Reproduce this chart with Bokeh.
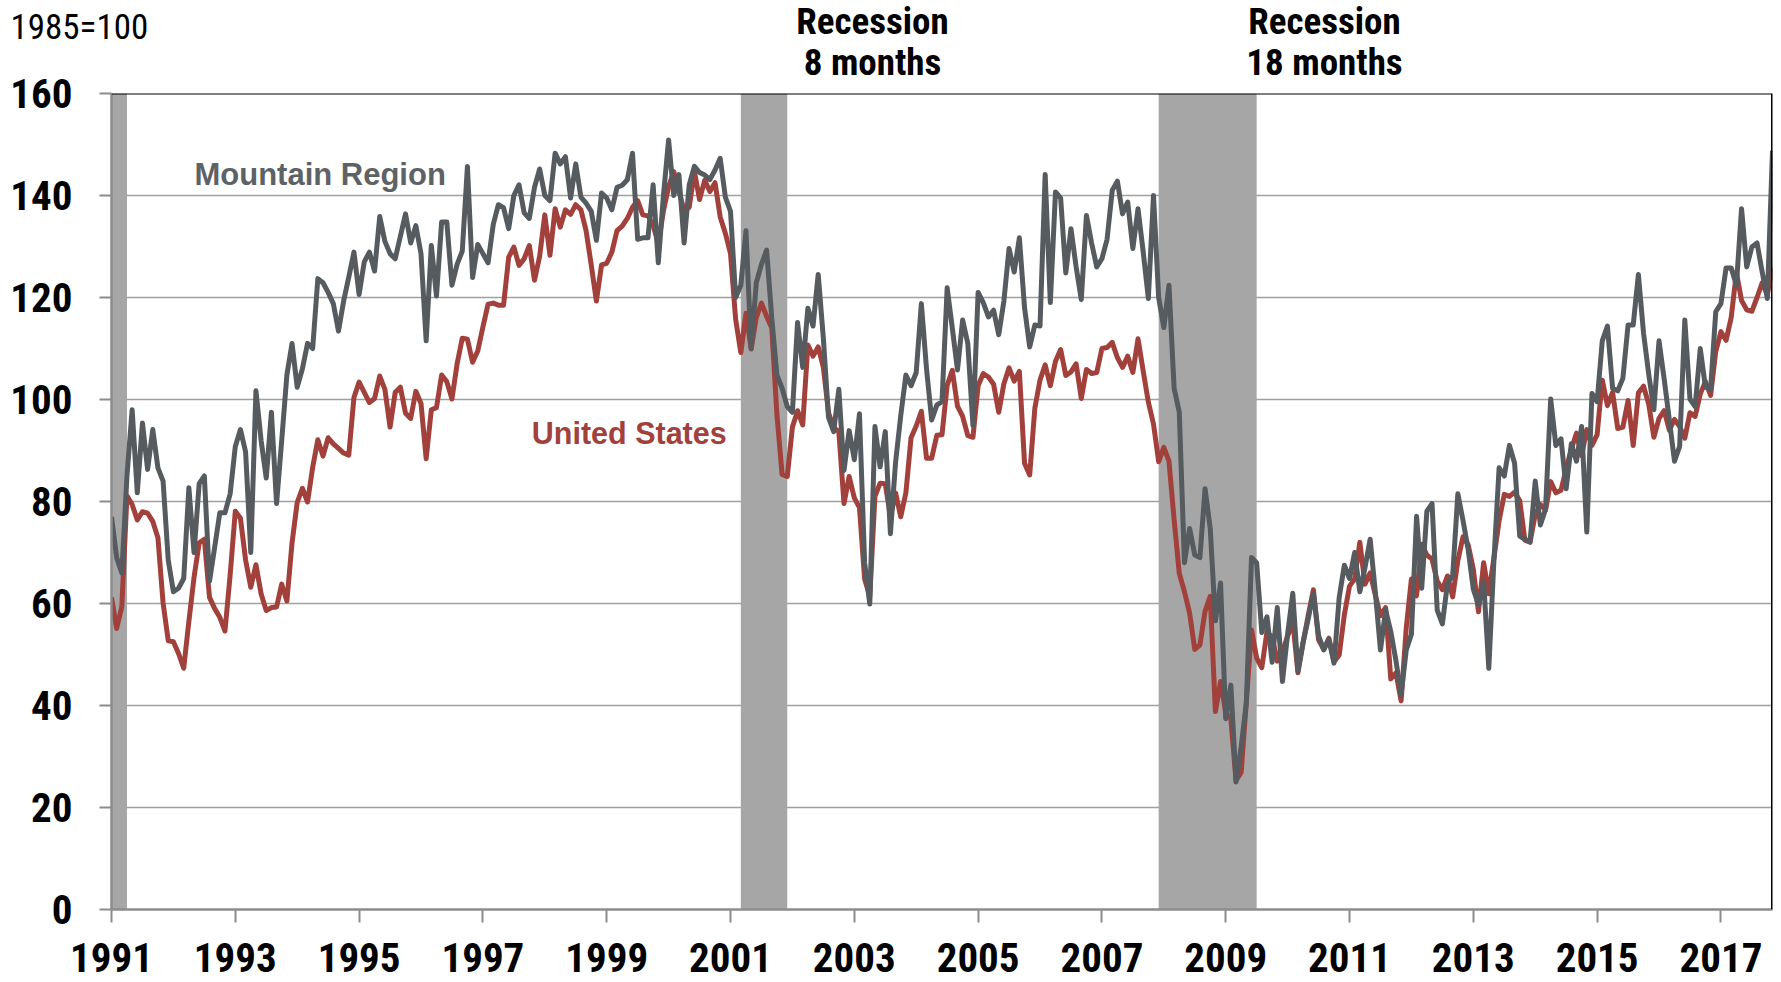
from bokeh.plotting import figure
from bokeh.models import Range1d, FixedTicker, Label, Span
from bokeh.layouts import column
from bokeh.embed import file_html
from bokeh.resources import INLINE

# Monthly index values, 1985=100. First value is Dec 1990, then Jan..Dec per year, ending Oct 2017.
us_dec_1990 = [61.2]
us_index = us_dec_1990 + [
    55.1, 59.4, 81.1, 79.4, 76.4, 78.0, 77.7, 76.1, 72.9, 60.1, 52.7, 52.5,   # 1991
    50.2, 47.3, 56.5, 65.1, 71.9, 72.6, 61.2, 59.0, 57.3, 54.6, 65.6, 78.1,   # 1992
    76.7, 68.5, 63.2, 67.6, 61.9, 58.6, 59.2, 59.3, 63.8, 60.5, 71.9, 79.8,   # 1993
    82.6, 79.9, 86.7, 92.1, 88.9, 92.5, 91.3, 90.4, 89.5, 89.1, 100.4, 103.4,  # 1994
    101.4, 99.4, 100.2, 104.6, 102.0, 94.6, 101.4, 102.4, 97.3, 96.3, 101.6, 99.2,  # 1995
    88.4, 98.0, 98.4, 104.8, 103.5, 100.1, 107.0, 112.0, 111.8, 107.3, 109.5, 114.2,  # 1996
    118.7, 118.9, 118.5, 118.5, 127.9, 129.9, 126.3, 127.6, 130.2, 123.4, 128.1, 136.2,  # 1997
    128.3, 137.4, 133.8, 137.2, 136.3, 138.2, 137.2, 133.1, 126.4, 119.3, 126.4, 126.7,  # 1998
    128.9, 133.1, 134.0, 135.5, 137.7, 139.0, 136.2, 136.0, 134.2, 130.5, 137.0, 141.7,  # 1999
    144.7, 140.8, 137.1, 137.7, 144.7, 139.2, 143.0, 140.8, 142.5, 135.8, 132.6, 128.6,  # 2000
    115.7, 109.2, 116.9, 109.9, 116.1, 118.9, 116.3, 114.0, 97.0, 85.3, 84.9, 94.6,   # 2001
    97.8, 95.0, 110.7, 108.5, 110.3, 106.3, 97.4, 94.5, 93.7, 79.6, 84.9, 80.7,   # 2002
    78.8, 64.8, 61.4, 81.0, 83.6, 83.5, 77.0, 81.7, 77.0, 81.7, 92.5, 94.8,   # 2003
    97.7, 88.5, 88.5, 93.0, 93.1, 102.8, 105.7, 98.7, 96.7, 92.9, 92.6, 102.7,  # 2004
    105.1, 104.4, 103.0, 97.5, 103.1, 106.2, 103.6, 105.5, 87.5, 85.2, 98.3, 103.8,  # 2005
    106.8, 102.7, 107.5, 109.8, 104.7, 105.4, 107.0, 100.2, 105.9, 105.1, 105.3, 110.0,  # 2006
    110.2, 111.2, 108.2, 106.3, 108.5, 105.3, 111.9, 105.6, 99.5, 95.2, 87.8, 90.6,  # 2007
    87.9, 76.4, 65.9, 62.3, 58.1, 51.0, 51.9, 58.5, 61.4, 38.8, 44.7, 38.6,   # 2008
    37.4, 25.3, 26.9, 40.8, 54.8, 49.3, 47.4, 54.5, 53.4, 48.7, 50.6, 53.6,   # 2009
    56.5, 46.4, 52.3, 57.7, 62.7, 52.9, 51.0, 53.2, 48.6, 49.9, 57.8, 63.4,   # 2010
    64.8, 72.0, 63.8, 66.0, 61.7, 57.6, 59.2, 45.2, 46.4, 40.9, 55.2, 64.8,   # 2011
    61.5, 71.6, 69.5, 68.7, 64.4, 62.7, 65.4, 61.3, 68.4, 73.1, 71.5, 66.7,   # 2012
    58.4, 68.0, 61.9, 69.0, 76.2, 81.4, 81.0, 81.8, 80.2, 72.4, 72.0, 77.5,   # 2013
    79.4, 78.3, 83.9, 81.7, 82.2, 86.4, 90.3, 93.4, 89.0, 94.1, 91.0, 93.1,   # 2014
    103.8, 98.8, 101.4, 94.3, 94.6, 99.8, 91.0, 101.3, 102.6, 99.1, 92.6, 96.3,  # 2015
    97.8, 94.0, 96.1, 94.7, 92.4, 97.4, 96.7, 101.1, 103.5, 100.8, 109.4, 113.3,  # 2016
    111.6, 116.1, 124.9, 119.4, 117.6, 117.3, 120.0, 122.9, 120.6, 125.9,  # 2017 (Jan-Oct)
]

mountain_dec_1990 = [77.0]
mountain_index = mountain_dec_1990 + [
    69.0, 66.0, 85.0, 98.0, 81.7, 95.4, 86.3, 94.1, 86.6, 84.0, 68.5, 62.3,   # 1991
    63.0, 64.9, 82.7, 70.0, 83.5, 85.0, 64.4, 71.0, 77.8, 77.8, 81.5, 90.8,   # 1992
    94.1, 89.7, 70.0, 101.7, 92.0, 84.6, 97.5, 79.6, 92.0, 104.8, 111.0, 102.4,  # 1993
    106.0, 111.0, 110.0, 123.7, 122.9, 121.0, 118.8, 113.4, 119.3, 124.0, 128.9, 120.6,  # 1994
    127.0, 128.9, 125.2, 135.9, 131.0, 128.6, 127.6, 132.0, 136.4, 130.7, 134.1, 128.6,  # 1995
    111.5, 130.2, 120.3, 134.8, 134.8, 122.4, 126.5, 129.1, 145.7, 123.9, 130.4, 128.6,  # 1996
    126.8, 134.3, 138.2, 137.6, 133.5, 140.0, 142.1, 136.6, 135.5, 141.6, 145.2, 140.0,  # 1997
    139.0, 148.3, 146.2, 147.6, 139.5, 146.2, 139.7, 138.5, 136.9, 131.2, 140.5, 139.5,  # 1998
    137.2, 141.6, 142.0, 143.1, 148.3, 131.4, 131.7, 131.7, 142.1, 126.8, 140.0, 150.9,  # 1999
    140.0, 144.1, 130.7, 142.1, 145.7, 144.5, 144.0, 143.1, 145.0, 147.3, 139.7, 136.9,  # 2000
    120.0, 122.4, 133.1, 110.0, 122.9, 126.5, 129.3, 116.0, 104.8, 102.2, 98.6, 97.5,  # 2001
    115.1, 106.3, 117.9, 114.4, 124.5, 112.0, 96.5, 93.7, 102.0, 86.1, 93.9, 88.2,  # 2002
    97.2, 68.0, 59.9, 94.7, 86.8, 93.7, 73.7, 87.7, 96.8, 104.8, 102.7, 105.3,  # 2003
    118.8, 106.0, 96.0, 98.9, 99.6, 121.9, 114.0, 105.8, 115.6, 111.0, 94.9, 121.0,  # 2004
    119.0, 116.2, 117.5, 112.7, 119.3, 129.6, 125.0, 131.7, 118.0, 110.3, 114.6, 114.4,  # 2005
    144.1, 119.0, 140.7, 139.5, 124.8, 133.5, 126.0, 119.6, 136.1, 130.7, 126.0, 127.6,  # 2006
    131.4, 141.0, 142.8, 136.4, 138.7, 129.6, 137.4, 129.0, 119.8, 140.0, 120.0, 114.1,  # 2007
    122.4, 102.2, 97.5, 68.0, 74.7, 69.5, 69.0, 82.5, 74.7, 56.6, 64.0, 37.4,  # 2008
    44.0, 25.0, 32.0, 40.5, 69.0, 68.0, 54.3, 57.4, 48.5, 59.2, 44.7, 54.0,   # 2009
    62.0, 46.8, 52.4, 57.0, 62.0, 53.7, 50.9, 53.0, 48.3, 61.2, 67.5, 64.9,   # 2010
    70.0, 62.3, 67.0, 72.6, 62.3, 50.9, 58.7, 54.5, 48.8, 42.0, 50.9, 54.0,   # 2011
    77.1, 63.0, 78.1, 79.6, 58.7, 56.0, 64.0, 65.4, 81.5, 76.3, 70.6, 62.8,   # 2012
    59.7, 64.4, 47.3, 68.5, 86.6, 85.0, 91.0, 87.5, 73.2, 72.6, 72.1, 84.0,   # 2013
    75.4, 78.5, 100.1, 91.0, 92.3, 82.5, 91.3, 87.9, 94.7, 74.0, 101.2, 99.6,  # 2014
    111.5, 114.4, 102.2, 101.7, 104.2, 114.6, 114.6, 124.5, 113.0, 105.0, 98.0, 111.5,  # 2015
    104.0, 96.0, 87.9, 90.8, 115.6, 100.1, 98.6, 110.0, 102.4, 102.0, 117.2, 118.8,  # 2016
    125.8, 125.8, 122.4, 137.4, 126.0, 129.9, 130.7, 125.0, 119.8, 148.8,  # 2017 (Jan-Oct)
]

# Recessions (start month, end month)
rec_start = [(1990, 7), (2001, 3), (2007, 12)]
rec_end = [(1991, 3), (2001, 11), (2009, 6)]
rec_text = [["Recession", "8 months"], ["Recession", "18 months"]]

year_ticks = list(range(1991, 2018, 2))
value_ticks = list(range(0, 161, 20))

# month-end positions on a fractional-year axis
first_year, first_month = 1990, 12
x = [first_year + (first_month + k) / 12 for k in range(len(us_index))]
rec_left = [y + (m - 1) / 12 for (y, m) in rec_start]
rec_right = [y + m / 12 for (y, m) in rec_end]

X0, X1 = x[0], x[-1]
Y0, Y1 = 0, 160

NARROW = "'Roboto Condensed', 'Liberation Sans Narrow', 'Arial Narrow', 'Liberation Sans', sans-serif"
WIDE = "'Liberation Sans', Arial, sans-serif"
GRAY = "#565b5f"
RED = "#a2403c"
AXIS_GRAY = "#8c8c8c"
W = 1776

# ---- header strip holding the texts above the plot (pixel coordinates, y downward)
TOP_H = 96
top = figure(width=W, height=TOP_H, output_backend="svg", toolbar_location=None,
             x_range=Range1d(0, W), y_range=Range1d(TOP_H, 0),
             min_border_left=0, min_border_right=0, min_border_top=0, min_border_bottom=0,
             title=None)
try:
    top.frame_align = False
except Exception:
    pass
top.axis.visible = False
top.grid.visible = False
top.outline_line_color = None
top.background_fill_color = "white"
top.border_fill_color = "white"

top.add_layout(Label(x=10, y=27, text="1985=100", text_font=NARROW, text_font_size="35px",
                     text_color="black", text_align="left", text_baseline="middle"))
for cx, lines in zip([872, 1324], rec_text):
    for ly, t in zip([21, 62], lines):
        top.add_layout(Label(x=cx, y=ly, text=t, text_font=NARROW, text_font_size="37px",
                             text_font_style="bold", text_color="black",
                             text_align="center", text_baseline="middle"))

# ---- main chart (pulled up so that its transparent top border overlaps the header strip)
OVERLAP = 27
p = figure(width=W, height=982 - 1 - TOP_H + OVERLAP, output_backend="svg", toolbar_location=None,
           x_range=Range1d(X0, X1), y_range=Range1d(Y0, Y1),
           min_border_left=111, min_border_right=W - 1772,
           min_border_top=93 - (TOP_H - OVERLAP), min_border_bottom=72)
p.margin = (-OVERLAP, 0, 0, 0)
try:
    p.frame_align = False
except Exception:
    pass
p.outline_line_color = None
p.background_fill_color = "white"
p.border_fill_color = None

p.xgrid.visible = False
p.ygrid.ticker = FixedTicker(ticks=value_ticks)
p.ygrid.grid_line_color = "#a0a0a0"
p.ygrid.grid_line_width = 1.5

p.quad(left=rec_left, right=rec_right, bottom=Y0, top=Y1, fill_color="#a6a6a6", line_color=None)

p.line(x, us_index, line_color=RED, line_width=5, line_join="round")
p.line(x, mountain_index, line_color=GRAY, line_width=5, line_join="round")

p.add_layout(Span(location=Y1, dimension="width", line_color="black", line_width=2))
p.add_layout(Span(location=X1, dimension="height", line_color="black", line_width=3))

for ax in (p.xaxis[0], p.yaxis[0]):
    ax.axis_line_color = AXIS_GRAY
    ax.axis_line_width = 2.5
    ax.major_tick_line_color = AXIS_GRAY
    ax.major_tick_line_width = 2
    ax.major_tick_in = 0
    ax.minor_tick_line_color = None
    ax.major_label_text_font = NARROW
    ax.major_label_text_font_style = "bold"
    ax.major_label_text_font_size = "41px"
    ax.major_label_text_color = "black"

p.xaxis.ticker = FixedTicker(ticks=year_ticks)
p.xaxis.major_label_overrides = {t: str(t) for t in year_ticks}
p.xaxis.major_tick_out = 13
p.xaxis.major_label_standoff = 20

p.yaxis.ticker = FixedTicker(ticks=value_ticks)
p.yaxis.major_label_overrides = {t: str(t) for t in value_ticks}
p.yaxis.major_tick_out = 12
p.yaxis.major_label_standoff = 27

p.add_layout(Label(x=1992.34, y=144.1, text="Mountain Region", text_font=WIDE,
                   text_font_size="31px", text_font_style="bold", text_color="#5d6266",
                   text_align="left", text_baseline="middle"))
p.add_layout(Label(x=1997.79, y=93.5, text="United States", text_font=WIDE,
                   text_font_size="30.5px", text_font_style="bold", text_color=RED,
                   text_align="left", text_baseline="middle"))

layout = column(top, p, spacing=0)
open("out.html", "w").write(file_html(layout, INLINE))
